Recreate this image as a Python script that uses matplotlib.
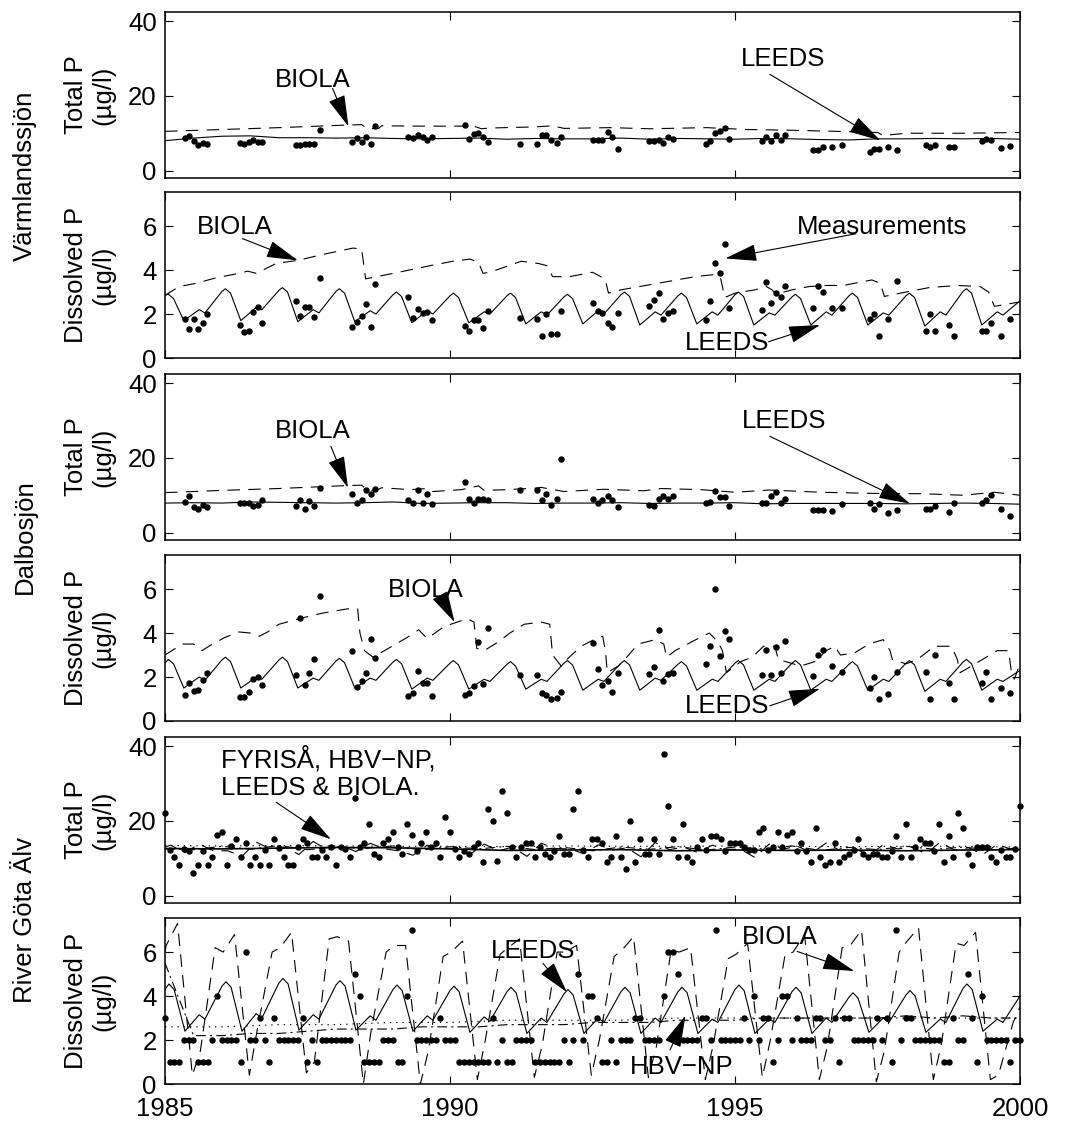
import numpy as np
import matplotlib
matplotlib.use("Agg")
import matplotlib.pyplot as plt

plt.rcParams['font.family'] = ['Liberation Sans', 'DejaVu Sans']
plt.rcParams['lines.scale_dashes'] = False

FS = 18.5
YEARS = list(range(1985, 2000))
X_TICKS = [1985, 1990, 1995, 2000]
X_TICK_LABELS = ['1985', '1990', '1995', '2000']
TP_TICKS = [0, 20, 40]
DP_TICKS = [0, 2, 4, 6]

# ---------------- lake measurements (sampling dates shared) ----------------
lake_dates = [1985.35, 1985.42, 1985.51, 1985.58, 1985.67, 1985.74,
              1986.31, 1986.39, 1986.47, 1986.55, 1986.63, 1986.71,
              1987.30, 1987.37, 1987.45, 1987.53, 1987.62, 1987.72,
              1988.28, 1988.36, 1988.45, 1988.53, 1988.61, 1988.69,
              1989.26, 1989.35, 1989.44, 1989.52, 1989.60, 1989.69,
              1990.26, 1990.33, 1990.42, 1990.50, 1990.58, 1990.66,
              1991.22, 1991.53, 1991.62, 1991.68, 1991.78, 1991.87, 1991.95,
              1992.51, 1992.59, 1992.67, 1992.77, 1992.85, 1992.94,
              1993.50, 1993.58, 1993.66, 1993.74, 1993.83, 1993.92,
              1994.49, 1994.57, 1994.65, 1994.74, 1994.82, 1994.90,
              1995.47, 1995.55, 1995.64, 1995.72, 1995.80, 1995.88,
              1996.37, 1996.45, 1996.54, 1996.71, 1996.87,
              1997.36, 1997.44, 1997.53, 1997.69, 1997.85,
              1998.35, 1998.42, 1998.51, 1998.76, 1998.84,
              1999.33, 1999.41, 1999.50, 1999.67, 1999.82]

varm_tp_meas = [8.8, 9.2, 7.9, 6.9, 7.4, 7.0,
                7.4, 7.2, 7.6, 8.1, 7.7, 7.6,
                6.9, 6.9, 7.0, 7.2, 7.0, 10.9,
                7.6, 8.8, 7.6, 8.9, 7.1, 11.9,
                9.1, 8.7, 9.6, 8.9, 8.2, 9.1,
                12.1, 8.5, 9.7, 10.0, 8.9, 7.6,
                7.0, 7.0, 9.6, 9.6, 8.1, 7.3, 9.1,
                8.2, 8.1, 8.1, 10.3, 9.1, 5.8,
                7.9, 7.9, 8.1, 7.3, 8.9, 8.5,
                7.0, 7.9, 10.0, 10.5, 11.4, 8.5,
                7.9, 8.9, 7.9, 9.5, 8.2, 9.6,
                5.5, 5.6, 6.3, 6.3, 6.9,
                4.9, 5.8, 5.8, 6.3, 5.5,
                6.9, 6.4, 6.9, 6.3, 6.3,
                7.9, 8.5, 8.2, 6.0, 6.7]

varm_dp_meas = [1.77, 1.33, 1.77, 1.33, 1.59, 2.01,
                1.48, 1.18, 1.25, 2.07, 2.34, 1.59,
                2.6, 1.92, 2.34, 2.34, 1.86, 3.63,
                1.41, 1.62, 1.92, 2.46, 1.41, 3.35,
                2.77, 1.84, 2.22, 2.04, 2.07, 1.74,
                1.47, 1.21, 1.74, 1.74, 1.36, 2.16,
                1.81, 1.77, 1.01, 2.01, 1.1, 1.1, 2.16,
                2.49, 2.12, 2.04, 1.59, 1.41, 2.04,
                2.37, 2.64, 2.95, 1.77, 2.04, 2.16,
                1.74, 2.6, 4.3, 3.85, 5.18, 2.27,
                2.19, 3.47, 2.49, 2.97, 2.77, 3.27,
                2.27, 3.27, 3.02, 2.27, 2.27,
                1.77, 2.01, 1.01, 1.77, 3.51,
                1.25, 2.01, 1.25, 1.51, 1.01,
                1.25, 1.25, 1.59, 1.01, 1.77]

dalb_tp_meas = [8.1, 9.75, 6.9, 6.4, 7.3, 6.8,
                7.8, 7.8, 7.8, 7.2, 7.3, 8.8,
                7.0, 8.6, 6.4, 8.4, 7.0, 12.0,
                10.2, 7.8, 8.7, 11.3, 10.2, 11.8,
                8.8, 7.8, 11.4, 7.8, 10.2, 7.7,
                13.5, 9.0, 7.8, 9.0, 9.0, 8.8,
                11.3, 11.3, 8.7, 10.4, 7.3, 9.0, 19.7,
                9.0, 7.8, 8.7, 9.9, 8.6, 6.9,
                7.5, 7.2, 9.0, 9.75, 9.0, 9.75,
                7.9, 8.1, 11.1, 9.5, 9.5, 7.2,
                7.8, 7.8, 9.75, 10.9, 7.8, 9.0,
                6.1, 6.1, 6.1, 5.9, 7.7,
                7.8, 6.3, 7.7, 5.2, 6.1,
                6.4, 6.4, 7.0, 5.5, 7.8,
                7.8, 8.6, 10.0, 6.4, 4.5]

dalb_dp_meas = [1.2, 1.72, 1.35, 1.4, 1.87, 2.17,
                1.08, 1.08, 1.32, 1.92, 2.0, 1.62,
                2.07, 4.68, 1.62, 2.2, 2.8, 5.67,
                3.19, 1.53, 1.8, 2.2, 3.75, 2.88,
                1.12, 1.27, 2.28, 1.72, 1.75, 1.12,
                1.2, 1.27, 1.6, 3.6, 1.7, 4.23,
                2.07, 2.1, 1.27, 1.2, 1.0, 1.05, 1.32,
                3.55, 2.35, 1.65, 1.83, 1.32, 2.2,
                2.13, 2.47, 4.15, 1.8, 2.13, 2.17,
                2.6, 3.4, 6.0, 2.95, 4.08, 3.75,
                2.07, 3.22, 2.1, 3.37, 2.2, 3.63,
                2.05, 3.0, 3.25, 2.5, 2.25,
                1.5, 2.0, 1.0, 1.23, 2.25,
                2.25, 1.0, 3.0, 1.75, 1.0,
                1.75, 2.25, 1.0, 1.5, 1.27]

# ---------------- lake model series ----------------
half_years = list(np.arange(1985.0, 2000.01, 0.5))
varm_leeds_tp = [8.0, 8.7, 9.2, 9.3, 8.8, 8.8, 8.7, 8.8, 8.6, 8.5, 8.6, 8.7, 8.4, 8.6, 8.5, 8.5,
                 8.7, 8.4, 8.6, 8.5, 8.4, 8.6, 8.5, 8.3, 8.2, 8.5, 8.5, 8.6, 8.5, 8.6, 8.4]
dalb_leeds_tp = [7.9, 8.0, 7.9, 8.2, 8.1, 8.0, 7.9, 8.0, 8.2, 7.8, 7.9, 8.0, 8.0, 7.8, 7.9, 7.9,
                 8.0, 7.8, 7.9, 7.9, 8.0, 7.7, 7.8, 7.8, 7.8, 7.8, 7.7, 7.8, 7.9, 7.8, 7.6]

varm_biola_tp_t = [1985.0, 1986.0, 1987.0, 1988.2, 1988.45, 1988.55, 1988.75, 1988.8, 1989.5, 1990.2,
                   1990.4, 1990.55, 1990.7, 1991.5, 1991.8, 1992.0, 1992.8, 1993.5, 1994.5, 1995.2,
                   1996.0, 1996.8, 1997.5, 1997.6, 1998.0, 1999.0, 2000.0]
varm_biola_tp_v = [10.5, 11.0, 11.5, 12.2, 12.3, 11.2, 11.3, 12.0, 11.9, 11.9,
                   12.0, 11.2, 11.4, 11.7, 12.0, 11.3, 11.5, 11.2, 11.5, 11.0,
                   10.8, 10.5, 10.2, 9.4, 10.0, 10.0, 10.2]

dalb_biola_tp_t = [1985.0, 1986.0, 1987.0, 1988.2, 1988.45, 1988.55, 1988.7, 1988.8, 1989.3, 1989.6,
                   1989.7, 1990.2, 1990.5, 1990.6, 1991.0, 1991.5, 1991.6, 1992.0, 1992.7, 1993.4,
                   1993.7, 1994.4, 1995.0, 1995.6, 1996.5, 1997.4, 1998.3, 1999.0, 1999.55, 2000.0]
dalb_biola_tp_v = [10.7, 11.3, 11.8, 12.6, 12.7, 11.4, 11.2, 12.0, 11.5, 11.8,
                   11.0, 11.5, 12.5, 11.3, 11.5, 11.9, 12.1, 11.0, 11.6, 11.2,
                   11.8, 11.5, 10.8, 11.4, 10.8, 10.5, 10.4, 10.0, 10.8, 10.0]

# LEEDS dissolved P: knots per year (pre-peak, peak, post-peak, trough, summer bump, autumn dip)
leeds_offsets = [0.0, 0.06, 0.15, 0.33, 0.6, 0.7]
varm_leeds_pre = [2.85, 3.03, 3.08, 3.03, 2.88, 2.83, 2.83, 2.78, 2.88, 2.83, 2.88, 2.78, 2.83, 2.83, 3.03]
varm_leeds_peak = [2.9, 3.15, 3.2, 3.15, 3.0, 2.95, 2.95, 2.9, 3.0, 2.95, 3.0, 2.9, 2.95, 2.95, 3.15]
varm_leeds_post = [2.7, 2.95, 3.0, 2.95, 2.8, 2.75, 2.75, 2.7, 2.8, 2.75, 2.8, 2.7, 2.75, 2.75, 2.95]
varm_leeds_trough = [1.7, 1.7, 1.65, 1.65, 1.6, 1.6, 1.55, 1.55, 1.5, 1.55, 1.5, 1.5, 1.5, 1.45, 1.5]
varm_leeds_bump = [2.2, 2.3, 2.2, 2.15, 2.15, 2.1, 2.1, 2.15, 2.1, 2.1, 2.05, 2.1, 2.05, 2.1, 2.1]
varm_leeds_dip = [2.05, 2.2, 2.05, 2.0, 2.0, 2.0, 1.95, 2.0, 1.95, 1.95, 1.95, 1.95, 1.95, 1.95, 1.95]

dalb_leeds_pre = [2.65, 2.78, 2.78, 2.73, 2.68, 2.63, 2.58, 2.63, 2.63, 2.58, 2.63, 2.63, 2.58, 2.63, 2.68]
dalb_leeds_peak = [2.8, 2.9, 2.9, 2.85, 2.8, 2.75, 2.7, 2.75, 2.75, 2.7, 2.75, 2.75, 2.7, 2.75, 2.8]
dalb_leeds_post = [2.6, 2.7, 2.7, 2.65, 2.6, 2.55, 2.5, 2.55, 2.55, 2.5, 2.55, 2.55, 2.5, 2.55, 2.6]
dalb_leeds_trough = [1.5, 1.5, 1.5, 1.5, 1.45, 1.45, 1.45, 1.4, 1.4, 1.4, 1.4, 1.4, 1.4, 1.35, 1.4]
dalb_leeds_bump = [2.0, 2.0, 1.95, 1.95, 1.95, 1.9, 1.9, 1.9, 1.95, 1.9, 1.9, 1.9, 1.9, 1.9, 1.9]
dalb_leeds_dip = [1.85, 1.9, 1.85, 1.85, 1.85, 1.8, 1.8, 1.8, 1.85, 1.8, 1.8, 1.8, 1.8, 1.8, 1.8]

varm_biola_dp_t = [1985.0, 1985.25, 1985.55, 1985.9, 1986.3, 1986.45, 1986.6, 1986.95, 1987.35, 1987.75,
                   1988.3, 1988.45, 1988.52, 1989.1, 1989.65, 1990.05, 1990.35, 1990.5, 1990.58, 1990.7,
                   1991.25, 1991.55, 1991.7, 1991.8, 1992.1, 1992.5, 1992.72, 1992.78, 1993.0, 1994.3,
                   1994.65, 1994.75, 1994.82, 1995.0, 1995.35, 1995.55, 1995.65, 1995.72, 1996.0, 1996.3,
                   1996.6, 1996.9, 1997.4, 1997.55, 1997.62, 1997.9, 1998.4, 1998.9, 1999.3, 1999.45,
                   1999.55, 2000.0]
varm_biola_dp_v = [2.85, 3.25, 3.4, 3.65, 3.85, 3.95, 3.85, 4.3, 4.45, 4.7,
                   5.0, 4.95, 3.6, 3.9, 4.2, 4.4, 4.5, 4.35, 3.85, 3.9,
                   4.4, 4.3, 4.2, 3.7, 3.7, 3.9, 3.6, 2.95, 3.1, 3.7,
                   3.8, 3.6, 2.75, 2.95, 3.1, 3.25, 3.1, 2.9, 3.1, 3.25,
                   3.3, 3.3, 3.55, 3.4, 2.8, 2.95, 3.2, 3.3, 3.25, 3.0,
                   2.35, 2.55]

dalb_biola_dp_t = [1985.0, 1985.3, 1985.5, 1985.65, 1985.8, 1986.05, 1986.3, 1986.5, 1986.65, 1986.8,
                   1987.0, 1987.35, 1987.75, 1988.2, 1988.38, 1988.42, 1988.5, 1988.65, 1988.85, 1989.25,
                   1989.45, 1989.6, 1989.9, 1990.3, 1990.42, 1990.47, 1990.6, 1990.85, 1991.05, 1991.3,
                   1991.6, 1991.75, 1991.8, 1991.95, 1992.05, 1992.3, 1992.6, 1992.68, 1992.73, 1992.76,
                   1992.95, 1993.1, 1993.3, 1993.6, 1993.75, 1993.8, 1993.95, 1994.35, 1994.55, 1994.7,
                   1994.78, 1994.85, 1995.1, 1995.3, 1995.5, 1995.7, 1995.76, 1996.15, 1996.4, 1996.6,
                   1996.75, 1996.85, 1997.1, 1997.35, 1997.6, 1997.72, 1997.76, 1998.0, 1998.2, 1998.5,
                   1998.8, 1998.9, 1998.95, 1999.15, 1999.6, 1999.8, 1999.85, 1999.9, 2000.0]
dalb_biola_dp_v = [3.0, 3.5, 3.5, 3.2, 3.45, 3.8, 4.05, 4.0, 3.85, 4.05,
                   4.4, 4.65, 4.9, 5.1, 5.1, 4.0, 3.2, 2.9, 3.2, 3.8,
                   4.15, 3.75, 4.3, 4.65, 4.5, 3.3, 3.2, 3.6, 4.0, 4.4,
                   4.5, 4.4, 3.0, 2.5, 2.8, 3.4, 3.8, 3.85, 3.1, 2.2,
                   2.5, 2.9, 3.5, 3.7, 3.5, 2.9, 3.2, 3.75, 4.0, 3.6,
                   3.2, 2.2, 2.7, 2.9, 3.4, 3.4, 2.8, 2.5, 2.7, 3.2,
                   3.4, 3.0, 3.1, 3.5, 3.7, 3.2, 2.8, 2.6, 2.8, 3.4,
                   3.4, 2.8, 2.2, 2.5, 3.2, 3.2, 2.2, 1.9, 2.6]

# ---------------- River Göta Älv ----------------
# monthly samples Jan 1985 .. Jan 2000
gota_tp_meas = [22.1, 12.2, 10.2, 8.2, 12.5, 12.0, 6.1, 8.2, 12.0, 8.2,
                10.2, 16.3, 17.1, 8.2, 13.3, 15.1, 10.2, 14.2, 8.2, 10.2,
                8.2, 12.2, 8.2, 15.1, 12.8, 10.2, 8.2, 8.2, 13.0, 15.1,
                14.2, 10.2, 10.2, 12.2, 10.2, 13.0, 8.2, 13.1, 12.5, 10.2,
                26.1, 13.1, 14.2, 19.1, 11.1, 10.2, 14.2, 15.1, 17.1, 13.1,
                11.1, 19.1, 16.2, 12.0, 14.2, 17.1, 13.1, 14.2, 10.2, 21.1,
                17.1, 12.4, 10.2, 12.0, 11.1, 13.1, 14.2, 9.1, 23.2, 20.0,
                9.3, 28.1, 22.0, 13.1, 10.2, 13.1, 14.2,
                14.2, 10.2, 13.0, 11.1, 10.3, 12.0, 16.0, 11.2, 11.2, 23.2,
                27.9, 12.1, 10.2, 15.1, 15.1, 14.0, 9.1, 10.2, 16.0, 10.2,
                7.0, 20.0, 9.1, 15.1, 11.1, 11.1, 15.1, 11.1, 38.0, 24.1,
                15.1, 10.2, 19.1, 10.2, 9.1, 13.1, 15.1, 12.1, 16.0, 16.0,
                15.1, 12.0, 14.0, 14.0, 14.0, 13.1, 12.1, 12.1, 17.1, 18.1,
                12.1, 13.1, 17.1, 13.1, 16.2, 17.1, 12.0, 14.0, 12.0, 9.1,
                18.1, 10.2, 8.1, 9.1, 14.0, 9.1, 10.2, 11.1, 12.1, 15.1,
                11.1, 10.2, 11.1, 11.1, 10.2, 10.2, 12.0, 16.0, 10.2, 19.1,
                10.2, 13.1, 15.1, 14.0, 14.0, 12.0, 19.1, 9.1, 16.0, 10.2,
                22.1, 18.1, 11.1, 8.1, 13.1, 13.1, 13.1, 10.2, 9.1, 12.1,
                10.2, 10.2, 12.5, 24.1]

gota_dp_meas = [3, 1, 1, 1, 2, 2, 2, 1, 1, 1,
                2, 4, 2, 2, 2, 2, 1, 6, 2, 2,
                3, 2, 1, 3, 2, 2, 2, 2, 2, 3,
                1, 2, 1, 2, 2, 2, 2, 2, 2, 2,
                5, 4, 1, 1, 1, 1, 2, 2, 2, 1,
                1, 4, 7, 2, 2, 2, 2, 2, 3, 2,
                2, 2, 1, 1, 1, 1, 1, 1, 1, 3,
                1, 2, 1, 1, 2, 2, 2,
                2, 1, 1, 1, 1, 1, 1, 2, 1, 2,
                5, 2, 4, 4, 3, 1, 1, 2, 1, 2,
                2, 2, 3, 3, 2, 2, 2, 2, 4, 6,
                6, 5, 2, 2, 2, 2, 3, 3, 2, 7,
                2, 2, 2, 2, 2, 3, 2, 4, 2, 3,
                3, 1, 2, 4, 4, 2, 3, 2, 2, 2,
                3, 3, 2, 2, 3, 1, 3, 3, 2, 2,
                2, 2, 2, 3, 2, 3, 1, 7, 2, 3,
                3, 2, 2, 2, 2, 2, 2, 1, 1, 3,
                2, 2, 5, 3, 1, 4, 2, 2, 2, 2,
                2, 1, 2, 2]

year_knots = list(range(1985, 2001))
gota_leeds_tp = [12.6, 12.5, 12.7, 12.9, 12.8, 12.5, 12.1, 12.2, 12.3, 12.0, 12.2, 12.1, 12.2, 12.0, 12.2, 12.3]
gota_fyris_tp = [13.4, 13.3, 13.4, 13.3, 13.2, 13.2, 13.1, 13.3, 13.2, 13.2, 13.3, 13.2, 13.1, 13.2, 13.2, 13.0]
gota_hbv_tp = [12.5, 12.3, 13.2, 12.4, 13.4, 12.3, 13.0, 12.6, 13.3, 12.2, 13.1, 12.5, 13.2, 12.3, 12.9,
               12.0, 13.0, 12.4, 13.1, 12.2, 13.0, 12.5, 13.3, 12.1, 12.9, 12.3, 13.2, 12.4, 13.0, 12.2, 12.8]
gota_biola_tp_off = [0.1, 0.35, 0.6, 0.85]
gota_biola_tp_1 = [13.5, 12.0, 13.0, 13.3, 12.0, 12.5, 13.0, 12.5, 12.8, 13.0, 12.4, 13.2, 12.6, 13.0, 12.8]
gota_biola_tp_2 = [11.5, 10.5, 11.0, 11.8, 10.8, 11.0, 10.5, 11.2, 10.4, 11.5, 10.2, 11.4, 10.8, 11.2, 11.0]
gota_biola_tp_3 = [13.8, 14.3, 14.5, 14.0, 13.5, 13.8, 14.0, 13.6, 14.2, 13.5, 13.8, 14.1, 13.6, 14.3, 13.7]
gota_biola_tp_4 = [12.0, 12.5, 12.2, 12.5, 12.8, 12.0, 12.6, 12.2, 12.3, 12.4, 12.5, 12.0, 12.5, 12.2, 12.4]

gota_leeds_off = [0.0, 0.07, 0.16, 0.35, 0.6, 0.7]
gota_leeds_pre = [4.3, 4.45, 4.6, 4.5, 4.3, 4.25, 4.2, 4.1, 4.2, 4.2, 4.3, 4.2, 3.95, 4.05, 4.35]
gota_leeds_peak = [4.55, 4.65, 4.8, 4.7, 4.5, 4.45, 4.4, 4.3, 4.4, 4.4, 4.5, 4.4, 4.15, 4.25, 4.55]
gota_leeds_post = [4.3, 4.4, 4.55, 4.45, 4.25, 4.2, 4.15, 4.05, 4.15, 4.15, 4.25, 4.15, 3.9, 4.0, 4.3]
gota_leeds_trough = [2.4, 2.4, 2.45, 2.45, 2.4, 2.35, 2.3, 2.3, 2.3, 2.3, 2.3, 2.3, 2.35, 2.35, 2.4]
gota_leeds_bump = [3.15, 3.2, 3.15, 3.1, 3.1, 3.05, 3.0, 3.0, 3.0, 2.95, 2.95, 3.0, 3.0, 2.95, 2.95]
gota_leeds_dip = [2.95, 3.0, 2.95, 2.9, 2.9, 2.85, 2.8, 2.8, 2.8, 2.8, 2.8, 2.8, 2.8, 2.8, 2.8]

gota_biola_off = [0.02, 0.22, 0.48, 0.62, 0.88]
gota_biola_1 = [6.3, 6.0, 6.2, 6.7, 6.3, 6.0, 6.2, 6.0, 6.1, 6.0, 5.9, 6.0, 6.3, 6.5, 6.3]
gota_biola_2 = [7.3, 6.8, 6.9, 6.5, 6.3, 6.5, 6.6, 6.3, 6.7, 6.2, 6.4, 6.8, 7.0, 7.1, 6.9]
gota_biola_3 = [0.4, 0.4, 0.5, 0.0, 0.0, 0.2, 0.3, 0.4, 0.3, 0.2, 0.3, 0.2, 0.1, 0.2, 0.2]
gota_biola_4 = [1.5, 2.5, 1.0, 2.5, 1.5, 2.0, 1.8, 2.0, 1.7, 1.8, 2.0, 1.7, 1.5, 1.8, 0.4]
gota_biola_5 = [6.2, 6.0, 6.6, 6.0, 5.8, 5.9, 6.0, 5.8, 6.1, 5.7, 5.9, 6.2, 6.0, 6.4, 2.8]

gota_hbv_dp = [5.5, 2.2, 2.2, 2.3, 2.3, 2.4, 2.5, 2.5, 2.5, 2.6, 2.6, 2.6, 2.7, 2.7, 2.7, 2.8,
               2.8, 2.8, 2.9, 2.9, 2.9, 3.0, 3.0, 3.0, 3.0, 3.0, 3.1, 3.0, 3.1, 3.0, 3.0]
gota_fyris_dp = [2.6, 2.6, 2.7, 2.7, 2.8, 2.8, 2.9, 2.9, 2.9, 3.0, 3.0, 3.0, 3.0, 3.0, 3.0, 3.0]


def seasonal(start, end, offsets, *rows):
    t, v = [1985.0], [start]
    for i, y in enumerate(YEARS):
        for o, r in zip(offsets, rows):
            t.append(y + o)
            v.append(r[i])
    t.append(2000.0)
    v.append(end)
    return t, v


# ---------------- figure ----------------
fig = plt.figure(figsize=(10.69, 11.21), dpi=100)
W, H = 1069.0, 1121.0
tops = [12, 192, 374, 555, 737, 918]
axh = 166
axes = []
for i, top in enumerate(tops):
    ax = fig.add_axes([165 / W, 1 - (top + axh) / H, 855 / W, axh / H])
    axes.append(ax)

LW = 0.8
DASH = (0, (9, 6))
DASHDOT = (0, (7, 3, 1.5, 3))
DOT = (0, (1, 3.5))
MS = 3.6


def style(ax, kind, bottom=False):
    ax.set_xlim(1985, 2000)
    if kind == 'tp':
        ax.set_ylim(-2, 42.5)
        ax.set_yticks(TP_TICKS)
        ax.set_ylabel('Total P\n(µg/l)', fontsize=FS)
    else:
        ax.set_ylim(0, 7.55)
        ax.set_yticks(DP_TICKS)
        ax.set_ylabel('Dissolved P\n(µg/l)', fontsize=FS)
    ax.yaxis.set_label_coords(-0.058, 0.5)
    ax.set_xticks(X_TICKS)
    if bottom:
        ax.set_xticklabels(X_TICK_LABELS)
    else:
        ax.set_xticklabels([])
    ax.tick_params(direction='in', top=True, right=True, length=6, width=0.8,
                   labelsize=FS)
    ax.tick_params(axis='y', pad=6)
    ax.tick_params(axis='x', pad=9)
    for s in ax.spines.values():
        s.set_linewidth(1.1)


ARROW = dict(arrowstyle='-|>,head_length=1.0,head_width=0.27', mutation_scale=20,
             color='k', lw=0.8, shrinkA=0, shrinkB=0)


def arrow(ax, label, txt_xy, tail, head, ha='center'):
    ax.text(txt_xy[0], txt_xy[1], label, fontsize=FS, ha=ha, va='center', linespacing=1.2)
    ax.annotate('', xy=head, xytext=tail, arrowprops=ARROW)


# Panel 1: Värmlandssjön total P
ax = axes[0]
ax.plot(half_years, varm_leeds_tp, 'k-', lw=LW)
ax.plot(varm_biola_tp_t, varm_biola_tp_v, color='k', lw=LW, ls=DASH)
ax.plot(lake_dates, varm_tp_meas, 'o', color='k', ms=MS, ls='none', clip_on=False)
style(ax, 'tp')
arrow(ax, 'BIOLA', (1987.6, 24.2), (1987.94, 22.0), (1988.22, 11.8))
arrow(ax, 'LEEDS', (1995.85, 29.8), (1995.61, 25.8), (1997.55, 8.05))

# Panel 2: Värmlandssjön dissolved P
ax = axes[1]
t, v = seasonal(2.85, 2.6, leeds_offsets, varm_leeds_pre, varm_leeds_peak, varm_leeds_post,
                varm_leeds_trough, varm_leeds_bump, varm_leeds_dip)
ax.plot(t, v, 'k-', lw=LW)
ax.plot(varm_biola_dp_t, varm_biola_dp_v, color='k', lw=LW, ls=DASH)
ax.plot(lake_dates, varm_dp_meas, 'o', color='k', ms=MS, ls='none', clip_on=False)
style(ax, 'dp')
arrow(ax, 'BIOLA', (1986.23, 5.94), (1986.36, 5.43), (1987.33, 4.44))
arrow(ax, 'Measurements', (1997.58, 5.94), (1997.12, 5.65), (1994.83, 4.53))
arrow(ax, 'LEEDS', (1994.86, 0.68), (1995.59, 0.74), (1996.49, 1.5))

# Panel 3: Dalbosjön total P
ax = axes[2]
ax.plot(half_years, dalb_leeds_tp, 'k-', lw=LW)
ax.plot(dalb_biola_tp_t, dalb_biola_tp_v, color='k', lw=LW, ls=DASH)
ax.plot(lake_dates, dalb_tp_meas, 'o', color='k', ms=MS, ls='none', clip_on=False)
style(ax, 'tp')
arrow(ax, 'BIOLA', (1987.6, 27.2), (1987.91, 23.1), (1988.21, 12.0))
arrow(ax, 'LEEDS', (1995.86, 29.8), (1995.61, 25.8), (1998.07, 7.75))

# Panel 4: Dalbosjön dissolved P
ax = axes[3]
t, v = seasonal(2.65, 2.3, leeds_offsets, dalb_leeds_pre, dalb_leeds_peak, dalb_leeds_post,
                dalb_leeds_trough, dalb_leeds_bump, dalb_leeds_dip)
ax.plot(t, v, 'k-', lw=LW)
ax.plot(dalb_biola_dp_t, dalb_biola_dp_v, color='k', lw=LW, ls=DASH)
ax.plot(lake_dates, dalb_dp_meas, 'o', color='k', ms=MS, ls='none', clip_on=False)
style(ax, 'dp')
arrow(ax, 'BIOLA', (1989.57, 5.97), (1989.85, 5.6), (1990.08, 4.5))
arrow(ax, 'LEEDS', (1994.86, 0.67), (1995.61, 0.69), (1996.49, 1.47))

# Panel 5: Göta Älv total P
ax = axes[4]
months = 1985 + np.arange(len(gota_tp_meas)) / 12.0
ax.plot(year_knots, gota_fyris_tp, color='k', lw=LW, ls=DOT)
ax.plot(half_years, gota_hbv_tp, color='k', lw=LW, ls=DASHDOT)
t, v = seasonal(13.0, 12.5, gota_biola_tp_off, gota_biola_tp_1, gota_biola_tp_2,
                gota_biola_tp_3, gota_biola_tp_4)
ax.plot(t, v, color='k', lw=LW, ls=DASH)
ax.plot(year_knots, gota_leeds_tp, 'k-', lw=1.2)
ax.plot(months, gota_tp_meas, 'o', color='k', ms=MS, ls='none', clip_on=False)
style(ax, 'tp')
ax.text(1985.98, 32.9, 'FYRISÅ, HBV\u2212NP,\nLEEDS & BIOLA.', fontsize=FS,
        ha='left', va='center', linespacing=1.2)
ax.annotate('', xy=(1987.91, 15.1), xytext=(1986.95, 25.0), arrowprops=ARROW)

# Panel 6: Göta Älv dissolved P
ax = axes[5]
months_dp = 1985 + np.arange(len(gota_dp_meas)) / 12.0
ax.plot(year_knots, gota_fyris_dp, color='k', lw=LW, ls=DOT)
ax.plot(half_years, gota_hbv_dp, color='k', lw=LW, ls=DASHDOT)
t, v = seasonal(6.0, 3.5, gota_biola_off, gota_biola_1, gota_biola_2, gota_biola_3,
                gota_biola_4, gota_biola_5)
ax.plot(t, v, color='k', lw=LW, ls=DASH)
t, v = seasonal(4.3, 4.0, gota_leeds_off, gota_leeds_pre, gota_leeds_peak, gota_leeds_post,
                gota_leeds_trough, gota_leeds_bump, gota_leeds_dip)
ax.plot(t, v, 'k-', lw=LW)
ax.plot(months_dp, gota_dp_meas, 'o', color='k', ms=MS, ls='none', clip_on=False)
style(ax, 'dp', bottom=True)
arrow(ax, 'LEEDS', (1991.45, 6.03), (1991.63, 5.49), (1992.05, 4.18))
arrow(ax, 'BIOLA', (1995.78, 6.68), (1996.09, 6.03), (1997.09, 5.14))
arrow(ax, 'HBV\u2212NP', (1994.06, 0.79), (1993.86, 1.55), (1994.13, 3.1))

# group labels
for name, yc in [('Värmlandssjön', 176), ('Dalbosjön', 537), ('River Göta Älv', 920)]:
    fig.text(25 / W, 1 - yc / H, name, rotation=90, ha='center', va='center', fontsize=FS)

fig.savefig('out.png', dpi=100)
